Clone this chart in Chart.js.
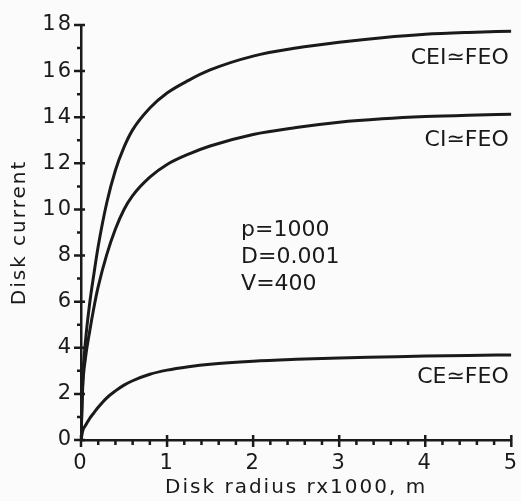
<!DOCTYPE html>
<html>
<head>
<meta charset="utf-8">
<script src="https://cdn.jsdelivr.net/npm/chart.js@4.4.1/dist/chart.umd.min.js"></script>
<style>
  html, body { margin: 0; padding: 0; background: #fbfbfb; }
  #contenedor { width: 521px; height: 501px; }
</style>
</head>
<body>
<div id="contenedor"><canvas id="graficoDisco" width="521" height="501"></canvas></div>
<script>
// Datos (radio del disco x1000 en m)
const radios = [0, 0.02, 0.05, 0.1, 0.15, 0.2, 0.3, 0.4, 0.5, 0.6, 0.8, 1, 1.25, 1.5, 2, 2.5, 3, 3.5, 4, 4.5, 5];
const corrienteCEI = [0, 2.6, 4.2, 5.9, 7.2, 8.4, 10.3, 11.7, 12.7, 13.45, 14.4, 15.05, 15.6, 16.05, 16.65, 17.0, 17.25, 17.45, 17.6, 17.68, 17.73];
const corrienteCI = [0, 2.3, 3.5, 4.7, 5.75, 6.65, 8.05, 9.15, 10.0, 10.6, 11.4, 11.95, 12.4, 12.75, 13.25, 13.55, 13.78, 13.93, 14.03, 14.09, 14.13];
const corrienteCE = [0, 0.4, 0.62, 0.93, 1.18, 1.42, 1.83, 2.13, 2.38, 2.57, 2.85, 3.03, 3.18, 3.29, 3.42, 3.5, 3.56, 3.6, 3.64, 3.67, 3.69];

const nombresCurvas = ['CEI≃FEO', 'CI≃FEO', 'CE≃FEO'];
const parametros = ['p=1000', 'D=0.001', 'V=400'];

const colorTinta = '#1a1a1a';
const fuente = 'DejaVu Sans';

function puntos(valores) {
  return radios.map((r, i) => ({ x: r, y: valores[i] }));
}

function serie(valores) {
  return {
    data: puntos(valores),
    borderColor: colorTinta,
    borderWidth: 3,
    pointRadius: 0,
    cubicInterpolationMode: 'monotone',
    fill: false
  };
}

// Marcas de los ejes (mayores cruzando el eje, menores pequeñas) y textos
const marcasEjes = {
  id: 'marcasEjes',
  beforeDraw(chart) {
    // eje x (z = 0) se dibuja antes de los datos
    chart.ctx.letterSpacing = '2px';
  },
  afterDatasetsDraw(chart) {
    // eje y (z = 1) se dibuja después de los datos
    chart.ctx.letterSpacing = '3.5px';
  },
  afterDraw(chart) {
    const ctx = chart.ctx;
    const ejeX = chart.scales.x;
    const ejeY = chart.scales.y;
    const x0 = ejeX.getPixelForValue(0);
    const y0 = ejeY.getPixelForValue(0);
    ctx.save();
    ctx.letterSpacing = '0px';
    ctx.strokeStyle = colorTinta;
    ctx.lineWidth = 2.5;
    ctx.beginPath();
    for (let v = 0; v <= 18; v++) {
      const py = ejeY.getPixelForValue(v);
      if (v % 2 === 0) { ctx.moveTo(x0 - 7, py); ctx.lineTo(x0 + 4, py); }
      else { ctx.moveTo(x0 - 4, py); ctx.lineTo(x0, py); }
    }
    for (let k = 0; k <= 25; k++) {
      const px = ejeX.getPixelForValue(k / 5);
      if (k % 5 === 0) { ctx.moveTo(px, y0 - 5); ctx.lineTo(px, y0 + 7); }
      else { ctx.moveTo(px, y0); ctx.lineTo(px, y0 + 5); }
    }
    ctx.stroke();

    // Etiquetas de las curvas
    ctx.fillStyle = colorTinta;
    ctx.font = '22px "' + fuente + '"';
    ctx.textBaseline = 'middle';
    ctx.textAlign = 'right';
    const posEtiquetas = [16.55, 13.0, 2.73];
    nombresCurvas.forEach((t, i) => {
      ctx.fillText(t, ejeX.getPixelForValue(4.97), ejeY.getPixelForValue(posEtiquetas[i]));
    });

    // Parámetros
    ctx.textAlign = 'left';
    parametros.forEach((t, i) => {
      ctx.fillText(t, ejeX.getPixelForValue(1.86), ejeY.getPixelForValue(9.1 - i * 1.17));
    });
    ctx.restore();
  }
};

const ctx = document.getElementById('graficoDisco').getContext('2d');
const grafico = new Chart(ctx, {
  type: 'line',
  data: {
    datasets: [serie(corrienteCEI), serie(corrienteCI), serie(corrienteCE)]
  },
  options: {
    responsive: false,
    animation: false,
    layout: { padding: { top: 25, right: 0, left: 0, bottom: 0 } },
    plugins: { legend: { display: false }, tooltip: { enabled: false } },
    scales: {
      x: {
        type: 'linear',
        min: 0,
        max: 5,
        afterFit(scale) { scale.height = 61; },
        grid: { display: false },
        border: { display: true, color: colorTinta, width: 2.5 },
        ticks: { stepSize: 1, color: colorTinta, padding: 3, font: { family: fuente, size: 21 } },
        title: {
          display: true,
          text: 'Disk radius rx1000, m',
          color: colorTinta,
          padding: { top: 0, bottom: 1 },
          font: { family: fuente, size: 20 }
        }
      },
      y: {
        min: 0,
        max: 18,
        z: 1,
        afterFit(scale) { scale.width = 81; },
        grid: { display: false },
        border: { display: true, color: colorTinta, width: 2.5 },
        ticks: { stepSize: 2, color: colorTinta, padding: 0, font: { family: fuente, size: 21 } },
        title: {
          display: true,
          text: 'Disk current',
          color: colorTinta,
          padding: { top: 8, bottom: 0 },
          font: { family: fuente, size: 20 }
        }
      }
    }
  },
  plugins: [marcasEjes]
});
</script>
</body>
</html>
